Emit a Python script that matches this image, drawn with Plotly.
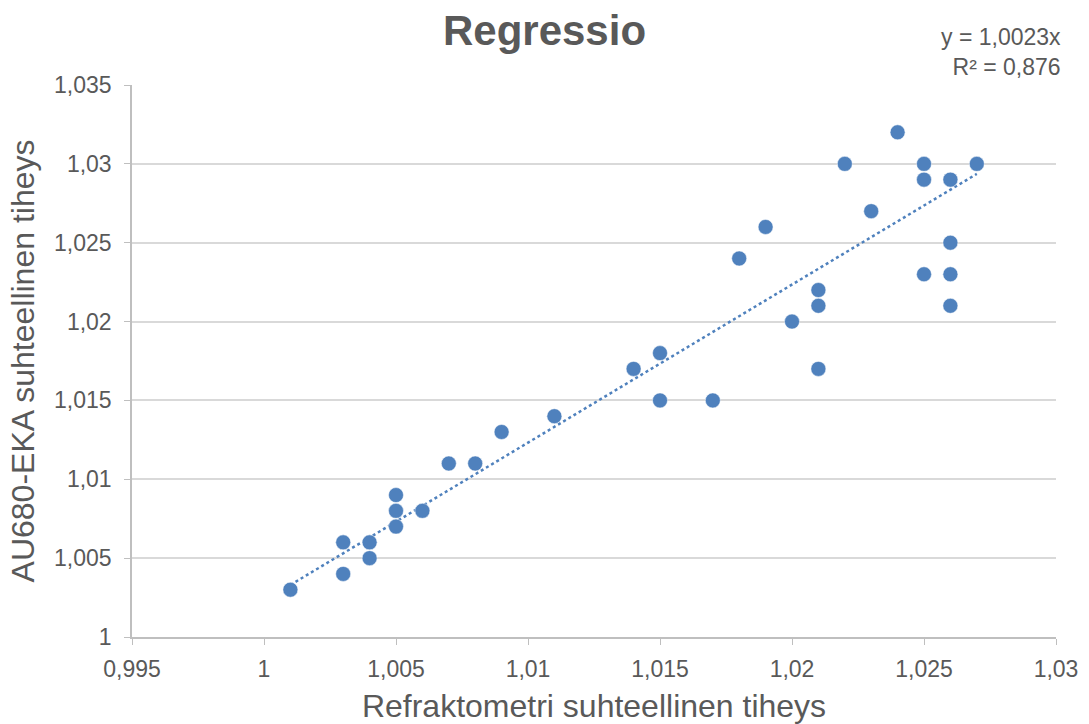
import plotly.graph_objects as go

refr = [1.001, 1.003, 1.003, 1.004, 1.004, 1.005, 1.005, 1.005, 1.006, 1.007,
        1.008, 1.009, 1.011, 1.014, 1.015, 1.015, 1.017, 1.018, 1.019, 1.020,
        1.021, 1.021, 1.021, 1.022, 1.023, 1.024, 1.025, 1.025, 1.025,
        1.026, 1.026, 1.026, 1.026, 1.027]
au680 = [1.003, 1.006, 1.004, 1.006, 1.005, 1.009, 1.008, 1.007, 1.008, 1.011,
         1.011, 1.013, 1.014, 1.017, 1.018, 1.015, 1.015, 1.024, 1.026, 1.020,
         1.022, 1.021, 1.017, 1.030, 1.027, 1.032, 1.030, 1.029, 1.023,
         1.029, 1.025, 1.023, 1.021, 1.030]
slope = 1.0023
trend_x = [min(refr), max(refr)]
trend_y = [slope * v for v in trend_x]

x_ticks = [0.995, 1.0, 1.005, 1.01, 1.015, 1.02, 1.025, 1.03]
x_labels = ["0,995", "1", "1,005", "1,01", "1,015", "1,02", "1,025", "1,03"]
y_ticks = [1.0, 1.005, 1.01, 1.015, 1.02, 1.025, 1.03, 1.035]
y_labels = ["1", "1,005", "1,01", "1,015", "1,02", "1,025", "1,03", "1,035"]

blue = "#4f81bd"
grey = "#595959"
font = "Liberation Sans, Arial, sans-serif"

fig = go.Figure()
fig.add_trace(go.Scatter(x=trend_x, y=trend_y, mode="lines",
                         line=dict(color=blue, width=2.5, dash="dot"),
                         hoverinfo="skip", showlegend=False))
fig.add_trace(go.Scatter(x=refr, y=au680, mode="markers",
                         marker=dict(color=blue, size=15,
                                     line=dict(color="white", width=0.5)),
                         showlegend=False))

fig.update_layout(
    width=1089, height=724,
    margin=dict(l=132, r=33, t=85, b=87),
    paper_bgcolor="white", plot_bgcolor="white",
    font=dict(family=font, color=grey),
    title=dict(text="<b>Regressio</b>", x=0.5, xref="container", xanchor="center",
               y=0.958, yref="container", yanchor="middle",
               font=dict(size=42, color=grey, family=font)),
    xaxis=dict(range=[0.995, 1.03], tickvals=x_ticks, ticktext=x_labels,
               showgrid=False, zeroline=False, showline=True,
               linecolor="#bfbfbf", linewidth=1.5,
               ticks="outside", ticklen=6, tickcolor="#bfbfbf",
               ticklabelstandoff=5, automargin=False,
               tickfont=dict(size=23, color=grey),
               title=dict(text="Refraktometri suhteellinen tiheys",
                          font=dict(size=32, color=grey), standoff=14)),
    yaxis=dict(range=[1.0, 1.035], tickvals=y_ticks, ticktext=y_labels,
               showgrid=True, gridcolor="#d9d9d9", gridwidth=1.5,
               zeroline=False, showline=True,
               linecolor="#bfbfbf", linewidth=1.5,
               ticks="outside", ticklen=6, tickcolor="#bfbfbf",
               ticklabelstandoff=8, automargin=False,
               tickfont=dict(size=23, color=grey),
               title=dict(text="AU680-EKA suhteellinen tiheys",
                          font=dict(size=32, color=grey), standoff=10)),
    annotations=[dict(text="y = 1,0023x<br>R² = 0,876", xref="paper", yref="paper",
                      x=1.0076, y=1.005, xanchor="right", yanchor="bottom",
                      align="right", showarrow=False,
                      font=dict(size=23, color=grey, family=font))],
)

fig.write_html("out.html")
